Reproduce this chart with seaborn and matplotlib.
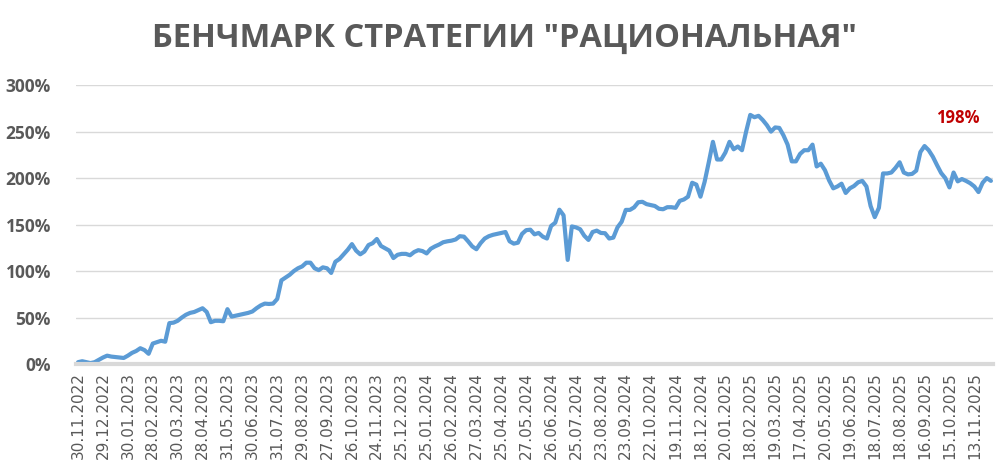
import matplotlib
matplotlib.use("Agg")
import matplotlib.pyplot as plt
import seaborn as sns
import numpy as np
import pandas as pd

tick_labels = ["30.11.2022", "29.12.2022", "30.01.2023", "28.02.2023", "30.03.2023", "28.04.2023",
               "31.05.2023", "30.06.2023", "31.07.2023", "29.08.2023", "27.09.2023", "26.10.2023",
               "24.11.2023", "25.12.2023", "25.01.2024", "26.02.2024", "27.03.2024", "25.04.2024",
               "27.05.2024", "26.06.2024", "25.07.2024", "23.08.2024", "23.09.2024", "22.10.2024",
               "19.11.2024", "18.12.2024", "20.01.2025", "18.02.2025", "19.03.2025", "17.04.2025",
               "20.05.2025", "19.06.2025", "18.07.2025", "18.08.2025", "16.09.2025", "15.10.2025",
               "13.11.2025"]
points_per_label = 6

# benchmark return, %, sampled 6 times per label interval
seg_2023a = [2, 3, 2, 1, 2, 4.5, 7, 9, 8, 7.5, 7, 6.5, 9, 12, 14, 17, 15, 11, 22, 23.5,
             25, 24, 44, 44.5, 46.5, 50, 53, 55, 56, 58, 60, 56, 45, 46.5, 46.5, 46, 59, 51, 52, 53]
seg_2023b = [54, 55, 56.5, 60, 63, 65, 64.6, 65, 70, 90, 93, 96, 100, 103, 105, 109, 109, 103, 101, 104,
             103, 98, 110, 113, 118, 123, 129, 122, 118, 121, 128, 130, 134.5, 127, 124.5, 122, 114, 117.5, 118.5, 118.5]
seg_2024a = [117, 120.5, 122.5, 121.5, 119, 124, 126.5, 128.5, 131, 132, 132.7, 134, 137.5, 137, 132, 126.5,
             123.5, 130, 135, 137.5, 139, 140, 141, 142, 132, 129.5, 130.5, 140, 144, 144.5, 139.5, 141,
             137, 135, 148.5, 152, 166, 160, 112, 148]
seg_2024b = [147, 145, 138, 133.5, 142, 143.5, 141, 140.7, 135, 136, 147, 153, 165.8, 165.8, 168.5, 174,
             174.5, 172, 171, 170, 167, 166.5, 168.7, 168.7, 168, 175.5, 177, 180, 195, 193, 180, 196,
             217, 239, 220, 220, 227.5, 239, 231, 234]
seg_2025a = [230, 250, 268, 265.5, 267, 262.5, 257, 250, 254.5, 254, 246, 236, 218, 218, 226, 230, 230,
             236, 212.5, 215.5, 208.5, 197.5, 189, 191, 194, 184, 189, 191.5, 195.5, 197, 191, 170, 158,
             168, 205, 205, 206, 211, 217, 206]
seg_2025b = [204, 204.5, 208, 228, 234.5, 230, 223, 214, 205.5, 200, 190, 206, 196.5, 199, 197, 194.5,
             191, 185, 195, 200, 197]
values = seg_2023a + seg_2023b + seg_2024a + seg_2024b + seg_2025a + seg_2025b
last_label = "198%"

df = pd.DataFrame({"pos": np.arange(len(values)), "ret": values})

sns.set_theme(style="white")
plt.rcParams["font.family"] = ["Open Sans", "DejaVu Sans"]

fig = plt.figure(figsize=(10, 4.73), dpi=100)
ax = fig.add_axes([0.076, 0.2304, 0.917, 0.5896])

sns.lineplot(data=df, x="pos", y="ret", ax=ax, color="#5B9BD5", linewidth=3, solid_capstyle="round")

ax.set_ylim(0, 300)
ax.set_xlim(-0.5, len(values) - 0.5)
ax.set_yticks([0, 50, 100, 150, 200, 250, 300])
ax.set_yticklabels([f"{v}%" for v in [0, 50, 100, 150, 200, 250, 300]],
                   fontsize=12.5, fontweight="bold", color="#595959")
ax.set_xticks(np.arange(len(tick_labels)) * points_per_label)
ax.set_xticklabels(tick_labels, rotation=90, fontsize=11, color="#595959", family="DejaVu Sans")
ax.tick_params(axis="both", length=0)
ax.tick_params(axis="y", pad=18)
ax.tick_params(axis="x", pad=6)
ax.grid(axis="y", color="#D9D9D9", linewidth=1)
ax.set_axisbelow(True)
for s in ["top", "right", "left"]:
    ax.spines[s].set_visible(False)
ax.spines["bottom"].set_color("#D9D9D9")
ax.spines["bottom"].set_linewidth(3)
ax.set_xlabel("")
ax.set_ylabel("")

ax.text(len(values) - 9, 265, last_label, color="#C00000", fontsize=12, fontweight="bold",
        ha="center", va="center")

fig.text(0.504, 1 - 38 / 473, 'БЕНЧМАРК СТРАТЕГИИ "РАЦИОНАЛЬНАЯ"', ha="center", va="center",
         fontsize=23.5, fontweight="bold", color="#595959")

fig.savefig("out.png", dpi=100)
